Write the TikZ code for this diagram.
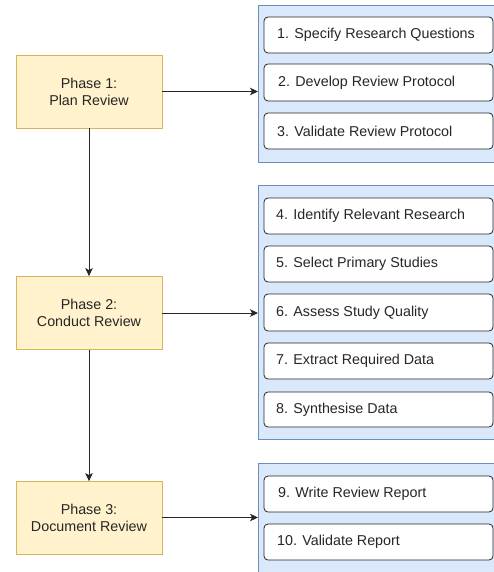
\documentclass[tikz,border=0pt]{standalone}
\usepackage{fontspec}
\setmainfont{Liberation Sans}
\usetikzlibrary{arrows.meta}
\definecolor{phfill}{HTML}{FFF2CC}
\definecolor{phdraw}{HTML}{D6B656}
\definecolor{grfill}{HTML}{DAE8FC}
\definecolor{grdraw}{HTML}{6C8EBF}
\definecolor{txt}{HTML}{262626}
\begin{document}
\begin{tikzpicture}[x=1pt,y=-1pt,
  phase/.style={draw=phdraw,fill=phfill,line width=0.8pt,minimum width=146pt,minimum height=73pt,inner sep=0pt,align=center,font=\fontsize{14.3}{17}\selectfont,text=txt},
  group/.style={draw=grdraw,fill=grfill,line width=0.8pt},
  item/.style={draw=black!85,fill=white,rounded corners=4pt,line width=0.8pt},
  itemtext/.style={anchor=west,inner sep=0pt,font=\fontsize{14.3}{17}\selectfont,text=txt},
  conn/.style={draw=black!85,line width=1pt,-{Stealth[length=8pt,width=7.5pt,inset=2pt]}}]
\useasboundingbox (0,0) rectangle (494,572);
\begin{scope}
\clip (0,0) rectangle (494,572);
% groups
\draw[group] (258,5) rectangle (520,162);
\draw[group] (258,185) rectangle (520,439);
\draw[group] (258,463) rectangle (520,600);
% items
\draw[item] (264,17) rectangle (493,53);
\draw[item] (264,64) rectangle (493,101);
\draw[item] (264,113) rectangle (493,149);
\draw[item] (264,198) rectangle (493,234);
\draw[item] (264,246) rectangle (493,282);
\draw[item] (264,294) rectangle (493,331);
\draw[item] (264,343) rectangle (493,379);
\draw[item] (264,392) rectangle (493,427);
\draw[item] (264,476) rectangle (493,512);
\draw[item] (264,524) rectangle (493,560);
\end{scope}
\node[itemtext] (t1) at (277,35) {1. Specify Research Questions};
\node[itemtext] (t2) at (278,82.5) {2. Develop Review Protocol};
\node[itemtext] (t3) at (277,131) {3. Validate Review Protocol};
\node[itemtext] (t4) at (276,216) {4. Identify Relevant Research};
\node[itemtext] (t5) at (276,264) {5. Select Primary Studies};
\node[itemtext] (t6) at (276,312.5) {6. Assess Study Quality};
\node[itemtext] (t7) at (276,361) {7. Extract Required Data};
\node[itemtext] (t8) at (276,409.5) {8. Synthesise Data};
\node[itemtext] (t9) at (278,494) {9. Write Review Report};
\node[itemtext] (t10) at (277,542) {10. Validate Report};
% target coordinates on group edges
\coordinate (g1) at (258,91.5);
\coordinate (g2) at (258,313);
\coordinate (g3) at (258,517.5);
% phases
\node[phase] (p1) at (89,91.5) {Phase 1:\\Plan Review};
\node[phase] (p2) at (89,313) {Phase 2:\\Conduct Review};
\node[phase] (p3) at (89,518) {Phase 3:\\Document Review};
\draw[conn] (p1.east) -- (g1);
\draw[conn] (p2.east) -- (g2);
\draw[conn] (p3.east |- g3) -- (g3);
\draw[conn] (p1.south) -- (p2.north);
\draw[conn] (p2.south) -- (p3.north);
\end{tikzpicture}
\end{document}
